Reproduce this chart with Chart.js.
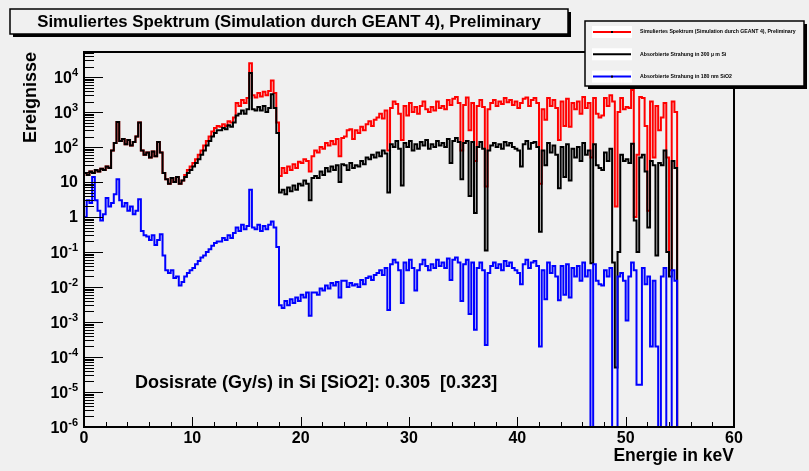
<!DOCTYPE html>
<html>
<head>
<meta charset="utf-8">
<script src="https://cdn.jsdelivr.net/npm/chart.js@4.4.0/dist/chart.umd.min.js"></script>
<style>
  html, body { margin: 0; padding: 0; background: #f0f0f0; }
</style>
</head>
<body>
<canvas id="spectrum" width="809" height="471"></canvas>
<script>
// histogram binning (keV), first bin starts at 0
var binWidth = 0.25;
var xMin = 0, xMax = 60;
var yMin = 1e-6, yMax = 5.2e4;
var xTickStep = 10;
var yDecades = [-6, -5, -4, -3, -2, -1, 0, 1, 2, 3, 4];

var seriesNames = [
    'Simuliertes Spektrum (Simulation durch GEANT 4), Preliminary',
    'Absorbierte Strahung in 300 \u00b5 m Si',
    'Absorbierte Strahung in 180 nm SiO2'
];

// counts per bin
var simSpectrum = [
    18, 16, 20, 18, 22, 20, 24, 22, 28, 25,
    80, 130, 520, 150, 170, 120, 160, 110, 140, 200,
    500, 80, 60, 70, 50, 75, 55, 140, 70, 18,
    12, 9, 13, 10, 14, 9, 11, 16, 22, 28,
    35, 45, 60, 80, 110, 150, 200, 280, 350, 400,
    380, 450, 400, 550, 500, 700, 1800, 1500, 2200, 1800,
    2500, 25000, 3000, 2600, 3500, 2800, 3800, 3000, 4000, 8000,
    3500, 500, 15, 25, 18, 28, 22, 32, 25, 38,
    35, 45, 40, 20, 55, 80, 70, 100, 90, 130,
    110, 150, 120, 170, 55, 180, 200, 300, 320, 170,
    300, 250, 380, 300, 450, 550, 400, 600, 700, 900,
    650, 1100, 80, 1300, 2000, 1700, 900, 160, 1500, 800,
    1800, 1000, 1400, 900, 1500, 2000, 1200, 1000, 1400, 1100,
    2000, 1300, 1500, 1200, 2200, 1600, 2400, 2700, 1800, 80,
    1600, 2600, 300, 1800, 40, 1500, 2200, 1400, 7.4, 1200,
    1800, 2200, 1500, 2000, 1700, 2500, 1900, 2200, 1600, 2000,
    1300, 1800, 2400, 2600, 1500, 2200, 2500, 1800, 9, 1200,
    600, 2500, 1500, 2200, 1300, 160, 2000, 400, 2400, 380,
    1800, 1200, 2000, 900, 2700, 1300, 1800, 50, 2500, 900,
    700, 800, 2500, 1500, 3000, 2000, 2, 1000, 2500, 1200,
    1400, 1300, 4300, 1, 60, 2700, 2500, 400, 1.5, 2000,
    50, 1500, 300, 700, 1800, 50, 0.03, 2000, 1000
];

var absorbedSi = [
    18, 16, 20, 18, 22, 20, 24, 22, 28, 25,
    80, 130, 520, 150, 170, 120, 160, 110, 140, 200,
    500, 80, 60, 70, 50, 75, 55, 140, 70, 18,
    12, 9, 13, 10, 14, 9, 11, 14, 18, 22,
    28, 35, 45, 60, 80, 110, 150, 200, 250, 300,
    300, 350, 320, 420, 380, 500, 800, 900, 1100, 900,
    1200, 13000, 1200, 1100, 1400, 1100, 1500, 1000, 1300, 3200,
    1300, 250, 5, 6, 4.5, 7, 5.5, 8, 6, 9,
    8, 11, 9, 3, 13, 15, 13, 20, 16, 25,
    20, 28, 22, 30, 10, 32, 30, 22, 35, 25,
    30, 28, 40, 32, 50, 45, 60, 50, 70, 55,
    80, 65, 5, 120, 100, 150, 90, 8, 130, 100,
    150, 80, 120, 90, 140, 110, 160, 90, 120, 100,
    150, 110, 130, 100, 170, 35, 150, 180, 140, 12,
    130, 150, 4, 140, 1.3, 100, 140, 90, 0.11, 80,
    110, 130, 100, 120, 90, 140, 110, 130, 100, 90,
    80, 28, 120, 150, 90, 130, 140, 100, 0.38, 80,
    30, 130, 70, 110, 60, 6.6, 100, 14, 120, 11,
    90, 50, 100, 40, 130, 60, 80, 0.048, 120, 30,
    25, 22, 70, 40, 90, 0.05, 0.00005, 0.1, 60, 40,
    45, 35, 125, 0.8, 0.1, 50, 60, 20, 0.5, 40,
    30, 0.08, 35, 30, 80, 0.1, 0.02, 40, 25
];

var absorbedSiO2 = [
    1.0, 3, 2.5, 14, 3, 1.5, 0.8, 1.2, 3.5, 2,
    2.5, 4.5, 12, 3, 2, 2.5, 1.5, 2, 1.2, 1.5,
    3.2, 0.4, 0.3, 0.28, 0.22, 0.3, 0.16, 0.22, 0.32, 0.08,
    0.03, 0.025, 0.03, 0.018, 0.02, 0.011, 0.014, 0.02, 0.025, 0.03,
    0.035, 0.045, 0.055, 0.07, 0.08, 0.1, 0.12, 0.15, 0.18, 0.2,
    0.2, 0.25, 0.22, 0.3, 0.25, 0.35, 0.5, 0.4, 0.6, 0.45,
    0.55, 6, 0.5, 0.45, 0.6, 0.4, 0.55, 0.45, 0.6, 0.75,
    0.5, 0.14, 0.003, 0.0025, 0.004, 0.003, 0.0045, 0.0035, 0.005, 0.004,
    0.006, 0.005, 0.007, 0.0015, 0.007, 0.007, 0.006, 0.009, 0.008, 0.011,
    0.009, 0.013, 0.011, 0.014, 0.005, 0.015, 0.015, 0.01, 0.013, 0.011,
    0.012, 0.01, 0.016, 0.012, 0.018, 0.02, 0.016, 0.022, 0.025, 0.03,
    0.022, 0.035, 0.0022, 0.045, 0.06, 0.05, 0.03, 0.0035, 0.05, 0.03,
    0.06, 0.035, 0.008, 0.03, 0.045, 0.06, 0.04, 0.03, 0.045, 0.035,
    0.06, 0.04, 0.05, 0.035, 0.065, 0.016, 0.06, 0.07, 0.05, 0.004,
    0.045, 0.06, 0.0017, 0.05, 0.0006, 0.035, 0.05, 0.03, 0.00022, 0.025,
    0.04, 0.05, 0.035, 0.045, 0.03, 0.055, 0.04, 0.05, 0.035, 0.03,
    0.025, 0.012, 0.045, 0.06, 0.035, 0.05, 0.055, 0.04, 0.0002, 0.03,
    0.0045, 0.05, 0.025, 0.04, 0.02, 0.0042, 0.04, 0.006, 0.045, 0.005,
    0.035, 0.02, 0.04, 0.015, 0.05, 0.02, 0.03, 0, 0.045, 0.015,
    0.012, 0.011, 0.03, 0.02, 0.035, 0, 0, 0.02, 0.025, 0.015,
    0.0011, 0.02, 0.05, 0.03, 0.000016, 0.000016, 0.035, 0.012, 0.02, 0.0002,
    0.015, 0.0002, 0, 0.02, 0.035, 0, 0, 0.03, 0.015
];

var doseText = 'Dosisrate (Gy/s) in Si [SiO2]: 0.305  [0.323]';
var chartTitle = 'Simuliertes Spektrum (Simulation durch GEANT 4), Preliminary';

var BG = '#f0f0f0';
var FONT = '"Liberation Sans", Arial, sans-serif';

// histogram bins -> step points (lower edges), empty bins sit on the axis floor
function toPoints(values) {
    var pts = values.map(function (v, i) {
        return { x: i * binWidth, y: v > 0 ? v : yMin };
    });
    pts.push({ x: values.length * binWidth, y: yMin });
    pts.push({ x: xMax, y: yMin });
    return pts;
}

function boxWithShadow(ctx, x, y, w, h, shadow) {
    ctx.fillStyle = '#000';
    ctx.fillRect(x + shadow, y + shadow, w, h);
    ctx.fillStyle = BG;
    ctx.fillRect(x, y, w, h);
    ctx.strokeStyle = '#000';
    ctx.lineWidth = 1.5;
    ctx.strokeRect(x, y, w, h);
}

var rootStyle = {
    id: 'rootStyle',
    beforeDraw: function (chart) {
        var ctx = chart.ctx;
        ctx.save();
        ctx.fillStyle = BG;
        ctx.fillRect(0, 0, chart.width, chart.height);
        ctx.restore();
    },
    afterDraw: function (chart) {
        var ctx = chart.ctx;
        var a = chart.chartArea;
        var xs = chart.scales.x, ys = chart.scales.y;
        ctx.save();

        // frame
        ctx.strokeStyle = '#000';
        ctx.lineWidth = 2;
        ctx.strokeRect(a.left, a.top, a.right - a.left, a.bottom - a.top);

        // inward tick marks
        ctx.lineWidth = 1;
        ctx.beginPath();
        for (var k = xMin; k <= xMax; k += 2) {
            var px = Math.round(xs.getPixelForValue(k)) + 0.5;
            var len = k % xTickStep === 0 ? 10 : 5;
            ctx.moveTo(px, a.bottom);
            ctx.lineTo(px, a.bottom - len);
        }
        yDecades.forEach(function (e) {
            for (var m = 1; m <= 9; m++) {
                var v = m * Math.pow(10, e);
                if (v > yMax) break;
                var py = Math.round(ys.getPixelForValue(v)) + 0.5;
                ctx.moveTo(a.left, py);
                ctx.lineTo(a.left + (m === 1 ? 19 : 10), py);
            }
        });
        ctx.stroke();

        // decade labels 10^n with raised exponent
        ctx.fillStyle = '#000';
        ctx.textAlign = 'right';
        var lx0 = a.left - 6;
        yDecades.forEach(function (e) {
            var py = ys.getPixelForValue(Math.pow(10, e));
            if (e === 0 || e === 1) {
                ctx.font = 'bold 16px ' + FONT;
                ctx.textBaseline = 'middle';
                ctx.fillText(e === 0 ? '1' : '10', lx0, py + 1);
                return;
            }
            var ex = String(e);
            ctx.font = 'bold 11px ' + FONT;
            ctx.textBaseline = 'alphabetic';
            var ew = ctx.measureText(ex).width;
            ctx.fillText(ex, lx0, py - 1);
            ctx.font = 'bold 16px ' + FONT;
            ctx.textBaseline = 'middle';
            ctx.fillText('10', lx0 - ew, py + 2);
        });

        // title pave
        boxWithShadow(ctx, 10, 9, 558, 25, 3);
        ctx.fillStyle = '#000';
        ctx.font = 'bold 16.8px ' + FONT;
        ctx.textAlign = 'center';
        ctx.textBaseline = 'middle';
        ctx.fillText(chartTitle, 289, 22);

        // legend
        var colors = ['#ff0000', '#000000', '#0000ff'];
        var lx = 585, ly = 21, lw = 219, lh = 65;
        boxWithShadow(ctx, lx, ly, lw, lh, 3);
        ctx.font = 'bold 5.2px ' + FONT;
        ctx.textAlign = 'left';
        for (var i = 0; i < 3; i++) {
            var ry = ly + 11 + i * 22.3;
            ctx.fillStyle = '#ffffff';
            ctx.fillRect(592, ry - 6, 40, 12);
            ctx.strokeStyle = colors[i];
            ctx.lineWidth = 2;
            ctx.beginPath();
            ctx.moveTo(593, ry);
            ctx.lineTo(631, ry);
            ctx.stroke();
            if (i !== 1) {
                ctx.fillStyle = '#000';
                ctx.fillRect(611, ry - 1, 2, 2);
            }
            ctx.fillStyle = '#000';
            ctx.fillText(seriesNames[i], 640, ry);
        }

        // dose annotation
        ctx.font = 'bold 18px ' + FONT;
        ctx.textAlign = 'left';
        ctx.textBaseline = 'middle';
        ctx.fillStyle = '#000';
        ctx.fillText(doseText, 135, 383);

        ctx.restore();
    }
};

var ctx = document.getElementById('spectrum');
new Chart(ctx, {
    type: 'line',
    data: {
        datasets: [
            { label: seriesNames[0], data: toPoints(simSpectrum), borderColor: '#ff0000', order: 3 },
            { label: seriesNames[1], data: toPoints(absorbedSi), borderColor: '#000000', order: 2 },
            { label: seriesNames[2], data: toPoints(absorbedSiO2), borderColor: '#0000ff', order: 1 }
        ]
    },
    options: {
        responsive: false,
        animation: false,
        devicePixelRatio: 1,
        layout: { padding: { top: 52, right: 75, bottom: 0, left: 0 } },
        elements: {
            line: { borderWidth: 2, stepped: 'before', tension: 0, fill: false },
            point: { radius: 0, hoverRadius: 0 }
        },
        scales: {
            x: {
                type: 'linear',
                min: xMin,
                max: xMax,
                grid: { display: false, drawTicks: false },
                border: { display: false },
                ticks: {
                    stepSize: xTickStep,
                    autoSkip: false,
                    maxRotation: 0,
                    padding: 2,
                    color: '#000',
                    font: { family: FONT, size: 16, weight: 'bold' }
                },
                title: {
                    display: true,
                    text: 'Energie in keV',
                    align: 'end',
                    color: '#000',
                    padding: { top: 0, bottom: 4 },
                    font: { family: FONT, size: 17.5, weight: 'bold' }
                },
                afterFit: function (s) { s.height = 44; }
            },
            y: {
                type: 'logarithmic',
                min: yMin,
                max: yMax,
                grid: { display: false, drawTicks: false },
                border: { display: false },
                ticks: { display: false },
                title: {
                    display: true,
                    text: 'Ereignisse',
                    align: 'end',
                    color: '#000',
                    padding: { top: 20, bottom: 0 },
                    font: { family: FONT, size: 18, weight: 'bold' }
                },
                afterFit: function (s) { s.width = 84; }
            }
        },
        plugins: {
            legend: { display: false },
            tooltip: { enabled: false }
        }
    },
    plugins: [rootStyle]
});
</script>
</body>
</html>
